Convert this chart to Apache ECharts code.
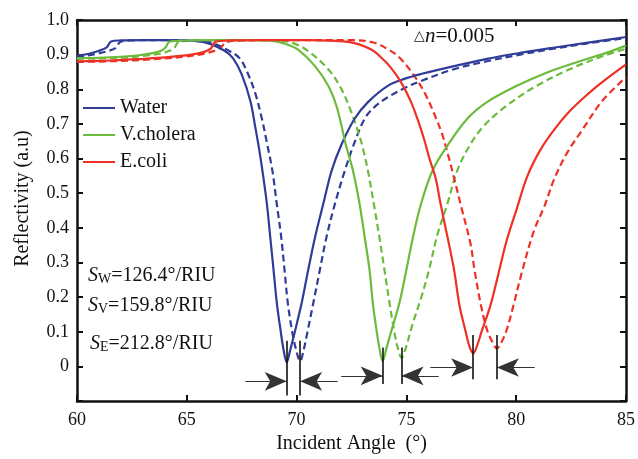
<!DOCTYPE html>
<html>
<head>
<meta charset="utf-8">
<script src="https://cdn.jsdelivr.net/npm/echarts@6/dist/echarts.min.js"></script>
<style>
html,body{margin:0;padding:0;background:#fff}
#main{width:638px;height:459px}
</style>
</head>
<body>
<div id="main"></div>
<script>
// curves: [angle, reflectivity]
var waterSolid = [[60.0,0.897],[60.5,0.902],[61.0,0.911],[61.35,0.921],[61.55,0.938],[62.0,0.941],[63.0,0.942],[64.0,0.942],[65.0,0.941],[65.9,0.934],[66.7,0.912],[67.1,0.89],[67.5,0.843],[67.9,0.765],[68.12,0.69],[68.3,0.625],[68.45,0.562],[68.65,0.468],[68.8,0.373],[68.95,0.279],[69.1,0.183],[69.28,0.1],[69.4,0.05],[69.55,0.012],[69.7,0.045],[69.9,0.095],[70.23,0.183],[70.53,0.279],[70.84,0.373],[71.21,0.468],[71.59,0.564],[72.04,0.64],[72.64,0.715],[73.25,0.763],[74.15,0.81],[74.9,0.83],[75.66,0.844],[77.17,0.867],[78.67,0.888],[80.18,0.905],[81.69,0.92],[83.19,0.934],[85.0,0.951]];
var waterDashed = [[60.0,0.895],[60.5,0.898],[61.0,0.904],[61.5,0.912],[61.8,0.921],[61.95,0.936],[62.5,0.941],[64.0,0.942],[65.2,0.942],[66.0,0.937],[66.9,0.912],[67.4,0.89],[67.75,0.85],[68.12,0.788],[68.42,0.715],[68.65,0.645],[68.9,0.564],[69.1,0.468],[69.3,0.373],[69.45,0.279],[69.6,0.183],[69.8,0.1],[69.97,0.05],[70.16,0.015],[70.33,0.05],[70.48,0.095],[70.76,0.183],[71.06,0.279],[71.36,0.373],[71.74,0.468],[72.19,0.564],[72.6,0.64],[73.1,0.715],[73.6,0.752],[74.15,0.777],[74.9,0.803],[75.66,0.824],[77.17,0.858],[78.67,0.881],[80.18,0.9],[81.69,0.917],[83.19,0.932],[85.0,0.948]];
var choleraSolid = [[60.0,0.89],[61.0,0.891],[62.0,0.894],[62.9,0.899],[63.5,0.905],[63.85,0.912],[64.05,0.922],[64.2,0.937],[65.0,0.941],[66.5,0.942],[68.0,0.942],[68.9,0.94],[69.5,0.931],[70.08,0.914],[70.84,0.867],[71.44,0.81],[71.81,0.753],[72.04,0.696],[72.22,0.645],[72.57,0.564],[72.87,0.468],[73.1,0.373],[73.32,0.279],[73.47,0.183],[73.65,0.1],[73.78,0.05],[73.92,0.015],[74.08,0.05],[74.28,0.095],[74.68,0.183],[75.0,0.279],[75.3,0.373],[75.66,0.468],[76.18,0.564],[76.79,0.63],[77.77,0.715],[78.67,0.763],[80.03,0.81],[81.38,0.848],[82.89,0.881],[84.1,0.905],[85.0,0.926]];
var choleraDashed = [[60.0,0.888],[61.0,0.889],[62.0,0.891],[63.0,0.896],[63.8,0.903],[64.2,0.911],[64.45,0.921],[64.6,0.935],[65.5,0.941],[67.0,0.942],[69.0,0.942],[69.8,0.934],[70.53,0.91],[71.44,0.858],[72.04,0.801],[72.49,0.734],[72.8,0.677],[72.98,0.64],[73.25,0.564],[73.52,0.468],[73.77,0.373],[74.0,0.279],[74.23,0.183],[74.45,0.1],[74.6,0.055],[74.78,0.025],[74.98,0.055],[75.27,0.12],[75.68,0.2],[76.03,0.279],[76.41,0.38],[76.86,0.468],[77.31,0.564],[77.9,0.64],[78.55,0.696],[79.57,0.753],[80.93,0.81],[82.44,0.858],[83.95,0.896],[85.0,0.917]];
var coliSolid = [[60.0,0.881],[61.0,0.882],[62.0,0.885],[63.0,0.888],[64.0,0.892],[65.2,0.9],[65.8,0.908],[66.1,0.918],[66.3,0.937],[67.0,0.941],[68.5,0.942],[70.5,0.942],[72.34,0.937],[73.4,0.915],[73.91,0.888],[74.3,0.862],[74.76,0.82],[75.2,0.765],[75.5,0.715],[75.81,0.655],[76.05,0.6],[76.33,0.544],[76.56,0.468],[76.9,0.365],[77.17,0.279],[77.42,0.175],[77.7,0.1],[77.86,0.06],[78.04,0.038],[78.22,0.06],[78.42,0.1],[78.82,0.175],[79.2,0.27],[79.55,0.36],[80.0,0.45],[80.5,0.548],[81.1,0.625],[81.75,0.685],[82.44,0.737],[83.1,0.777],[83.8,0.815],[85.0,0.872]];
var coliDashed = [[60.0,0.879],[61.0,0.88],[62.0,0.882],[63.0,0.885],[64.0,0.889],[65.0,0.895],[65.8,0.903],[66.39,0.914],[66.6,0.924],[66.77,0.936],[67.5,0.941],[70.0,0.942],[72.5,0.942],[73.5,0.935],[74.2,0.914],[74.66,0.893],[75.36,0.839],[75.87,0.785],[76.26,0.73],[76.62,0.672],[76.9,0.61],[77.17,0.544],[77.5,0.46],[77.92,0.354],[78.1,0.279],[78.4,0.175],[78.67,0.106],[78.92,0.07],[79.12,0.052],[79.33,0.07],[79.57,0.106],[79.85,0.17],[80.25,0.27],[80.8,0.39],[81.3,0.465],[81.75,0.544],[82.35,0.62],[82.95,0.677],[83.9,0.765],[85.0,0.835]];

var names = ['Water', 'V.cholera', 'E.coli'];
var colors = ['#2f3d98', '#6cbb3c', '#ee3124'];

// resonance marks: dip angles (solid, dashed) per medium, arrow tails, heights
var dipAngles = [69.55, 70.16, 73.92, 74.78, 78.04, 79.12];
var arrowFrom = [[67.67, 71.87], [72.03, 76.47], [76.09, 80.84]];
var arrowY = [-0.043, -0.027, -0.003];
var markTop = [0.074, 0.055, 0.091];
var markBottom = [-0.084, -0.051, -0.037];

var serif = 'Liberation Serif';

function curve(name, data, color, dashed) {
    return {
        name: name,
        type: 'line',
        data: data,
        symbol: 'none',
        smooth: 0.35,
        lineStyle: {color: color, width: 2.2, type: dashed ? [7, 4] : 'solid'},
        itemStyle: {color: color},
        z: dashed ? 3 : 4
    };
}

var marks = [];
for (var i = 0; i < 3; i++) {
    var xl = dipAngles[2 * i], xr = dipAngles[2 * i + 1];
    var thick = {color: '#111', width: 1.6, type: 'solid'};
    var thin = {color: '#333', width: 1.2, type: 'solid'};
    var head = {symbol: 'arrow', symbolSize: [14, 22], itemStyle: {color: '#111'}, lineStyle: thin};
    marks.push([{coord: [xl, markTop[i]], lineStyle: thick}, {coord: [xl, markBottom[i]], lineStyle: thick}]);
    marks.push([{coord: [xr, markTop[i]], lineStyle: thick}, {coord: [xr, markBottom[i]], lineStyle: thick}]);
    marks.push([{coord: [arrowFrom[i][0], arrowY[i]], lineStyle: thin}, echarts.util.extend({coord: [xl, arrowY[i]]}, head)]);
    marks.push([{coord: [arrowFrom[i][1], arrowY[i]], lineStyle: thin}, echarts.util.extend({coord: [xr, arrowY[i]]}, head)]);
}

var axisLine = {show: true, onZero: false, lineStyle: {color: '#111', width: 2.5}};
var tick = {show: true, inside: true, length: 6, lineStyle: {color: '#111', width: 2}};

var series = [
    curve(names[0], waterSolid, colors[0], false),
    curve(names[0] + ' ', waterDashed, colors[0], true),
    curve(names[1], choleraSolid, colors[1], false),
    curve(names[1] + ' ', choleraDashed, colors[1], true),
    curve(names[2], coliSolid, colors[2], false),
    curve(names[2] + ' ', coliDashed, colors[2], true),
    {
        type: 'line', data: [], symbol: 'none', silent: true,
        markLine: {
            silent: true, animation: false, symbol: ['none', 'none'],
            label: {show: false}, emphasis: {disabled: true},
            lineStyle: {color: '#111', width: 1.5, type: 'solid'},
            data: marks
        }
    }
];

function sLabel(top, left, sub, rest) {
    return {type: 'text', left: left, top: top, style: {
        text: '{s|S}{b|' + sub + '}{r|' + rest + '}',
        rich: {
            s: {fontFamily: serif, fontSize: 20, fontStyle: 'italic', fill: '#111'},
            b: {fontFamily: serif, fontSize: 14, fill: '#111', padding: [6, 0, 0, 0]},
            r: {fontFamily: serif, fontSize: 20, fill: '#111'}
        }
    }};
}

var chart = echarts.init(document.getElementById('main'));
chart.setOption({
    animation: false,
    backgroundColor: '#fff',
    grid: {left: 77, right: 8, top: 20, bottom: 53},
    legend: {
        data: names, orient: 'vertical', left: 78, top: 93,
        icon: 'rect', itemWidth: 32, itemHeight: 2, itemGap: 7,
        textStyle: {fontFamily: serif, fontSize: 20, color: '#111'}
    },
    xAxis: [{
        type: 'value', min: 60, max: 85, interval: 5, position: 'bottom',
        name: 'Incident Angle  (°)', nameLocation: 'middle', nameGap: 32,
        nameTextStyle: {fontFamily: serif, fontSize: 20, color: '#111'},
        axisLine: axisLine, axisTick: tick, splitLine: {show: false},
        axisLabel: {fontFamily: serif, fontSize: 18, color: '#111', margin: 10}
    }, {
        type: 'value', min: 60, max: 85, interval: 5, position: 'top',
        axisLine: axisLine, axisTick: tick, splitLine: {show: false},
        axisLabel: {show: false}
    }],
    yAxis: [{
        type: 'value', min: -0.1, max: 1.0, interval: 0.1, position: 'left',
        name: 'Reflectivity (a.u)', nameLocation: 'middle', nameGap: 44,
        nameTextStyle: {fontFamily: serif, fontSize: 20, color: '#111', padding: [0, 0, 0, 24]},
        axisLine: axisLine, axisTick: tick, splitLine: {show: false},
        axisLabel: {
            fontFamily: serif, fontSize: 18, color: '#111', margin: 8,
            formatter: function (v) {
                if (v < -0.05) return '';
                if (Math.abs(v) < 1e-6) return '0';
                return v.toFixed(1);
            }
        }
    }, {
        type: 'value', min: -0.1, max: 1.0, interval: 0.1, position: 'right',
        axisLine: axisLine, axisTick: tick, splitLine: {show: false},
        axisLabel: {show: false}
    }],
    graphic: [
        {type: 'text', left: 414, top: 26, style: {
            text: '{t|△}{n|n}{r|=0.005}',
            rich: {
                t: {fontFamily: serif, fontSize: 14, fill: '#111'},
                n: {fontFamily: serif, fontSize: 21, fontStyle: 'italic', fill: '#111'},
                r: {fontFamily: serif, fontSize: 21, fill: '#111'}
            }
        }},
        sLabel(266, 88, 'W', '=126.4°/RIU'),
        sLabel(296, 88, 'V', '=159.8°/RIU'),
        sLabel(334, 90, 'E', '=212.8°/RIU')
    ],
    series: series
});
</script>
</body>
</html>
